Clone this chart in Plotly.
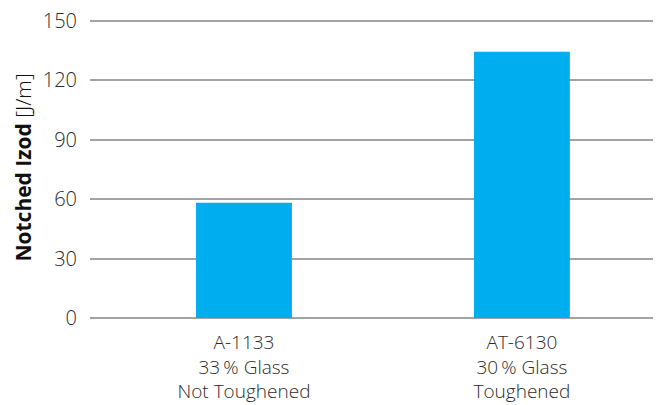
import plotly.graph_objects as go

categories = ["A-1133<br>33\u2009% Glass<br>Not Toughened", "AT-6130<br>30\u2009% Glass<br>Toughened"]
values = [58.2, 134.4]
y_ticks = [0, 30, 60, 90, 120, 150]

FONT = "Open Sans"
TEXT = "#2b2b2b"

fig = go.Figure()
fig.add_trace(go.Bar(
    x=[0, 1], y=values, width=0.345,
    marker=dict(color="#00AEEF", line=dict(width=0)),
    hoverinfo="skip",
))

# page body has an 8px margin, so the figure is offset by 8px
fig.update_layout(
    width=653, height=397,
    margin=dict(l=82, r=4, t=9, b=87, autoexpand=False),
    paper_bgcolor="white", plot_bgcolor="white",
    showlegend=False,
    font=dict(family=FONT, color=TEXT, size=20, weight=300),
    xaxis=dict(
        range=[-0.554, 1.486], automargin=False,
        tickvals=[0, 1], ticktext=categories,
        showgrid=False, zeroline=False, showline=False,
        ticks="", tickfont=dict(family=FONT, size=19, color=TEXT, weight=300),
        ticklabelstandoff=11,
        fixedrange=True,
    ),
    yaxis=dict(
        range=[0, 152], tickvals=y_ticks, automargin=False,
        showgrid=True, gridcolor="#A3A3A3", gridwidth=1.5,
        zeroline=True, zerolinecolor="#A3A3A3", zerolinewidth=1.5,
        showline=False, ticks="",
        tickfont=dict(family=FONT, size=20, color=TEXT, weight=300),
        ticklabelstandoff=12, ticklabeloverflow="allow",
        title=dict(text="<b>Notched Izod</b> [J/m]", standoff=5,
                   font=dict(family=FONT, size=21, color="#111111", weight=300)),
        fixedrange=True,
    ),
)

fig.write_html("out.html")
